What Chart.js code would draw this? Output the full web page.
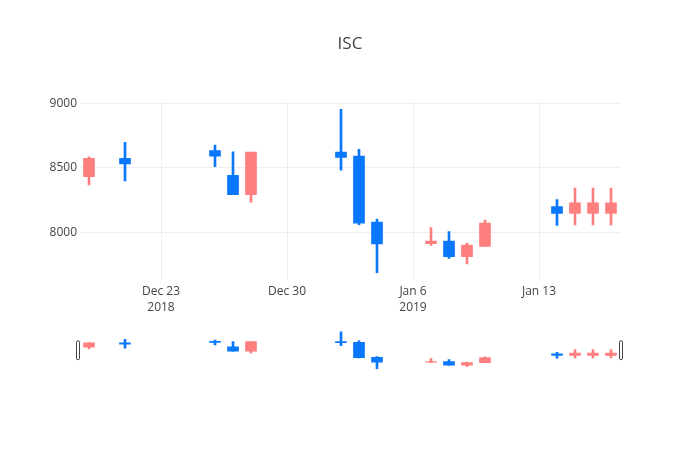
<!DOCTYPE html>
<html>
<head>
<meta charset="utf-8">
<script src="https://cdn.jsdelivr.net/npm/chart.js@4/dist/chart.umd.min.js"></script>
<style>
  body { margin: 0; background: #fff; }
  #wrap { position: relative; width: 700px; height: 450px; }
  #main { position: absolute; left: 0; top: 0; }
  #slider { position: absolute; left: 0; top: 320px; }
</style>
</head>
<body>
<div id="wrap">
  <canvas id="main" width="700" height="450"></canvas>
  <canvas id="slider" width="700" height="60"></canvas>
</div>
<script>
const dates = ['2018-12-19', '2018-12-21', '2018-12-26', '2018-12-27', '2018-12-28',
               '2019-01-02', '2019-01-03', '2019-01-04', '2019-01-07', '2019-01-08',
               '2019-01-09', '2019-01-10', '2019-01-14', '2019-01-15', '2019-01-16', '2019-01-17'];
const open  = [8574, 8530, 8591, 8291, 8622, 8581, 8070, 7909, 7932, 7811, 7901, 8072, 8146, 8229, 8229, 8229];
const high  = [8586, 8698, 8677, 8624, 8622, 8953, 8643, 8103, 8036, 8005, 7917, 8095, 8253, 8343, 8343, 8343];
const low   = [8367, 8398, 8509, 8291, 8234, 8481, 8059, 7687, 7899, 7798, 7755, 7891, 8053, 8057, 8057, 8057];
const close = [8431, 8574, 8633, 8442, 8291, 8622, 8591, 8080, 7911, 7932, 7811, 7891, 8200, 8146, 8146, 8146];

const xTickDates  = ['2018-12-23', '2018-12-30', '2019-01-06', '2019-01-13'];
const xTickLabels = [['Dec 23', '2018'], ['Dec 30'], ['Jan 6', '2019'], ['Jan 13']];
const yTicks = [8000, 8500, 9000];

const UP = '#0a78fd';   // blue
const DOWN = '#ff7f7f'; // salmon

// day numbers relative to the first tick
const t0 = Date.parse(xTickDates[0] + 'T00:00:00Z');
const dayNum = s => (Date.parse(s + 'T00:00:00Z') - t0) / 86400000;
const xs = dates.map(dayNum);
const xTickVals = xTickDates.map(dayNum);
const xMin = xs[0] - 0.5, xMax = xs[xs.length - 1] + 0.5;
const yMin = 7630, yMax = 9015;

const colors = open.map((o, i) => close[i] >= o ? UP : DOWN);
const wickData = xs.map((x, i) => ({ x: x, y: [low[i], high[i]] }));
const bodyData = xs.map((x, i) => ({ x: x, y: [Math.min(open[i], close[i]), Math.max(open[i], close[i])] }));

function candleSets() {
    return [
        { data: wickData, backgroundColor: colors, barThickness: 2, grouped: false, borderWidth: 0 },
        { data: bodyData, backgroundColor: colors, barThickness: 11, grouped: false, borderWidth: 0 }
    ];
}

const font = { family: 'Open Sans', size: 12 };

new Chart(document.getElementById('main'), {
    type: 'bar',
    data: { datasets: candleSets() },
    options: {
        responsive: false,
        animation: false,
        layout: { padding: { top: 0, left: 0, right: 0, bottom: 130 } },
        plugins: {
            legend: { display: false },
            tooltip: { enabled: false },
            title: {
                display: true,
                text: 'ISC',
                color: '#444',
                font: { family: 'Open Sans', size: 17, weight: 'normal', lineHeight: 1.2 },
                padding: { top: 34, bottom: 47 }
            }
        },
        scales: {
            x: {
                type: 'linear',
                min: xMin, max: xMax,
                offset: false,
                afterBuildTicks: s => { s.ticks = xTickVals.map(v => ({ value: v })); },
                afterFit: s => { s.height = 40; },
                grid: { color: '#eee', drawTicks: false, offset: false },
                border: { display: false },
                ticks: {
                    color: '#444', font: { ...font, lineHeight: 1.35 }, padding: 3, maxRotation: 0,
                    callback: v => xTickLabels[xTickVals.indexOf(v)]
                }
            },
            y: {
                min: yMin, max: yMax,
                afterBuildTicks: s => { s.ticks = yTicks.map(v => ({ value: v })); },
                afterFit: s => { s.width = 80; },
                grid: { color: '#eee', drawTicks: false },
                border: { display: false },
                ticks: { color: '#444', font: font, padding: 3, callback: v => String(v) }
            },
            yRight: {
                position: 'right',
                grid: { display: false },
                border: { display: false },
                ticks: { display: false },
                afterFit: s => { s.width = 80; }
            }
        }
    }
});

// range slider grips
const grips = {
    id: 'grips',
    afterDraw(chart) {
        const { ctx, chartArea } = chart;
        const cy = (chartArea.top + chartArea.bottom) / 2;
        ctx.save();
        ctx.strokeStyle = '#444';
        ctx.fillStyle = '#fff';
        ctx.lineWidth = 1;
        [chartArea.left - 2, chartArea.right + 1].forEach(x => {
            ctx.beginPath();
            ctx.roundRect(x - 1.5, cy - 9.5, 3, 19, 1.5);
            ctx.fill();
            ctx.stroke();
        });
        ctx.restore();
    }
};

new Chart(document.getElementById('slider'), {
    type: 'bar',
    data: { datasets: candleSets() },
    plugins: [grips],
    options: {
        responsive: false,
        animation: false,
        layout: { padding: { top: 10, left: 80, right: 80, bottom: 9.5 } },
        plugins: { legend: { display: false }, tooltip: { enabled: false } },
        scales: {
            x: { type: 'linear', min: xMin, max: xMax, offset: false, display: false },
            y: { min: 7625, max: 9020, display: false }
        }
    }
});
</script>
</body>
</html>
